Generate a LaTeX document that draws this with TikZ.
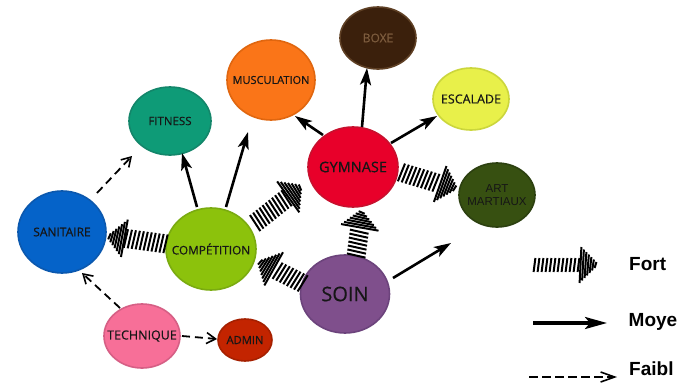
\documentclass[tikz,border=0pt]{standalone}
\usepackage{fontspec}
\setmainfont{Open Sans}
\newfontfamily\lblfont{Open Sans}[FakeBold=0.45]
\newfontfamily\legfont{Liberation Sans}
\usetikzlibrary{shapes.geometric,arrows.meta,calc,decorations.markings}
\definecolor{txt}{HTML}{161616}
\definecolor{cboxe}{HTML}{3B200C}\definecolor{cboxed}{HTML}{5E3F24}\definecolor{tboxe}{HTML}{7D5C3E}
\definecolor{cmus}{HTML}{FA7518}\definecolor{cmusd}{HTML}{E0660F}
\definecolor{cfit}{HTML}{0E9B77}\definecolor{cfitd}{HTML}{13866A}
\definecolor{cesc}{HTML}{E8F04A}\definecolor{cescd}{HTML}{CBD63C}
\definecolor{cgym}{HTML}{E8002A}\definecolor{cgymd}{HTML}{C8102E}
\definecolor{cart}{HTML}{375011}\definecolor{cartd}{HTML}{2C4010}
\definecolor{csan}{HTML}{0563C9}\definecolor{csand}{HTML}{0B58AE}
\definecolor{ccomp}{HTML}{8CC20C}\definecolor{ccompd}{HTML}{7AAB10}
\definecolor{csoin}{HTML}{7F4F8C}\definecolor{csoind}{HTML}{6C437C}
\definecolor{ctech}{HTML}{F76F98}\definecolor{ctechd}{HTML}{D65F85}
\definecolor{cadm}{HTML}{C32400}\definecolor{cadmd}{HTML}{A52000}
\newcommand\fortstripe{%
  \pgfmathsetmacro\fortrem{\pgfdecoratedpathlength-\pgfkeysvalueof{/pgf/decoration/mark info/distance from start}}%
  \pgfmathsetmacro\forthw{\fortrem>17.5 ? \fortshaft : \forthead*(\fortrem+0.5)/18}%
  \draw[line width=2pt,black] (-0.9pt,-\forthw pt) -- (0.9pt,\forthw pt);}
\begin{document}
\begin{tikzpicture}[x=1pt,y=-1pt,
  bubble/.style={ellipse, draw, line width=1.6pt, inner sep=0pt},
  lbl/.style={text=txt, inner sep=0pt, align=center},
  moyen/.style={line width=2.6pt, -{Stealth[length=17pt,width=11pt,inset=4pt]}},
  faible/.style={line width=1.8pt, dash pattern=on 8pt off 5pt,
    -{Straight Barb[length=9pt,width=11pt,line width=1.6pt]}},
  fortarrow/.style={/utils/exec={\def\fortshaft{9.5}\def\forthead{19}}, decorate,
    decoration={markings,
      mark=between positions 1.5pt and -19pt step 4pt with {\fortstripe},
      mark=between positions -17.5pt and -0.5pt step 2.5pt with {\fortstripe}}},
  legtxt/.style={font=\legfont\bfseries\fontsize{19}{22}\selectfont, inner sep=0pt, anchor=base west}
]
\useasboundingbox (0,0) rectangle (678,383);
\fill[white] (0,0) rectangle (678,383);
% nodes
\node[bubble, fill=cboxe, draw=cboxed, minimum width=76pt, minimum height=62pt,
  label={[lbl, text=tboxe, font=\lblfont\fontsize{12}{13}\selectfont]center:BOXE}] (boxe) at (378,38) {};
\node[bubble, fill=cmus, draw=cmusd, minimum width=88pt, minimum height=80pt,
  label={[lbl, font=\lblfont\fontsize{11}{12}\selectfont]center:MUSCULATION}] (mus) at (271,80) {};
\node[bubble, fill=cfit, draw=cfitd, minimum width=82pt, minimum height=68pt,
  label={[lbl, font=\lblfont\fontsize{11.5}{12}\selectfont]center:FITNESS}] (fit) at (170,121) {};
\node[bubble, fill=cesc, draw=cescd, minimum width=76pt, minimum height=62pt,
  label={[lbl, font=\lblfont\fontsize{12.5}{13}\selectfont]center:ESCALADE}] (esc) at (471,99) {};
\node[bubble, fill=cgym, draw=cgymd, minimum width=90pt, minimum height=80pt,
  label={[lbl, font=\lblfont\fontsize{14.5}{15}\selectfont]center:GYMNASE}] (gym) at (353,167) {};
\node[bubble, fill=cart, draw=cartd, minimum width=76pt, minimum height=64pt,
  label={[lbl, font=\legfont\fontsize{11.5}{13.5}\selectfont]center:ART\\MARTIAUX}] (art) at (497,195) {};
\node[bubble, fill=csan, draw=csand, minimum width=88pt, minimum height=82pt,
  label={[lbl, font=\lblfont\fontsize{12}{13}\selectfont]center:SANITAIRE}] (san) at (62,232) {};
\node[bubble, fill=ccomp, draw=ccompd, minimum width=90pt, minimum height=82pt,
  label={[lbl, font=\lblfont\fontsize{11.8}{12}\selectfont]center:COMPÉTITION}] (comp) at (211,249) {};
\node[bubble, fill=csoin, draw=csoind, minimum width=89pt, minimum height=78pt,
  label={[lbl, font=\lblfont\fontsize{20}{22}\selectfont]center:SOIN}] (soin) at (345,294) {};
\node[bubble, fill=ctech, draw=ctechd, minimum width=76pt, minimum height=64pt,
  label={[lbl, font=\lblfont\fontsize{12.5}{13}\selectfont]center:TECHNIQUE}] (tech) at (142,336) {};
\node[bubble, fill=cadm, draw=cadmd, minimum width=54pt, minimum height=42pt,
  label={[lbl, font=\lblfont\fontsize{11.2}{12}\selectfont]center:ADMIN}] (admin) at (245,340) {};
% medium arrows
\draw[moyen] ($(comp)+(-14,-42)$) -- ($(fit)+(12,32)$);
\draw[moyen] ($(comp)+(15,-42)$) -- ($(mus)+(-23,52)$);
\draw[moyen] ($(gym)+(-30,-32)$) -- ($(mus)+(24,36)$);
\draw[moyen] ($(gym)+(9,-40)$) -- ($(boxe)+(-11,30)$);
\draw[moyen] ($(gym)+(38,-24)$) -- ($(esc)+(-34,17)$);
\draw[moyen] ($(soin)+(48,-16)$) -- ($(art)+(-46,48)$);
% weak arrows
\draw[faible] ($(san)+(35,-39)$) -- ($(fit)+(-38,35)$);
\draw[faible] ($(tech)+(-22,-28)$) -- ($(san)+(20,41)$);
\draw[faible] ($(tech)+(40,0)$) -- ($(admin)+(-28,-1)$);
% strong arrows
\path[fortarrow] ($(comp)+(-44,-5)$) -- ($(san)+(45,4)$);
\path[fortarrow] ($(comp)+(43,-25)$) -- ($(gym)+(-51,19)$);
\path[fortarrow] ($(soin)+(-41,-10)$) -- ($(comp)+(47,12)$);
\path[fortarrow] ($(soin)+(11,-37)$) -- ($(gym)+(9,43)$);
\path[fortarrow] ($(gym)+(47,5)$) -- ($(art)+(-40,-6)$);
% legend
\coordinate (lf1) at (533,265);
\coordinate (lf2) at (598,265);
\coordinate (lm1) at (533,323);
\coordinate (lm2) at (607,323);
\coordinate (ld1) at (529,377);
\coordinate (ld2) at (617,377);
\path[fortarrow, /utils/exec={\def\fortshaft{7}\def\forthead{18}}] (lf1) -- (lf2);
\draw[line width=3.2pt, -{Stealth[length=22pt,width=12pt,inset=5pt]}] (lm1) -- (lm2);
\draw[line width=1.8pt, dash pattern=on 9pt off 4pt,
  -{Straight Barb[length=14pt,width=10pt,line width=1.6pt]}] (ld1) -- (ld2);
\node[legtxt] (tfort) at (629,270) {Fort};
\node[legtxt] (tmoy) at (628.5,326) {Moye};
\node[legtxt] (tfai) at (629,375) {Faibl};
\end{tikzpicture}
\end{document}
